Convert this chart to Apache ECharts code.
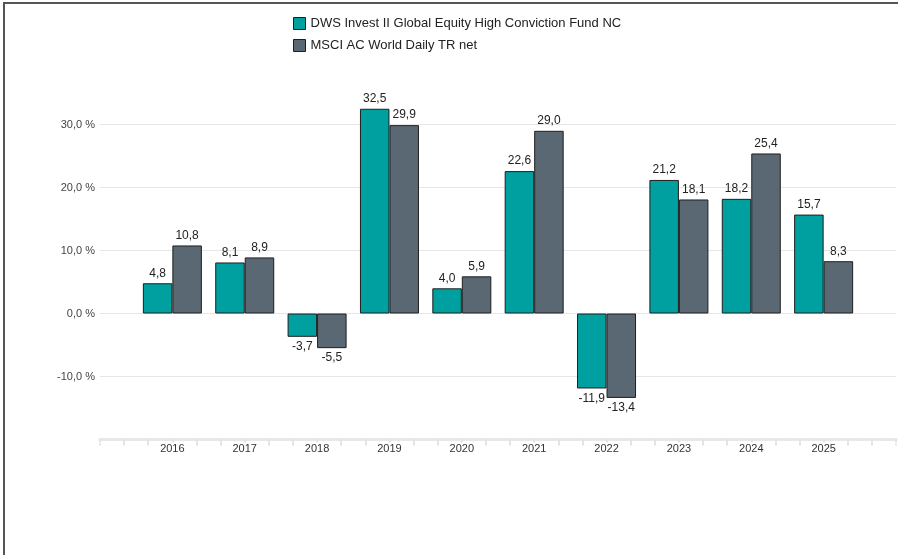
<!DOCTYPE html>
<html>
<head>
<meta charset="utf-8">
<script src="https://cdn.jsdelivr.net/npm/echarts@6/dist/echarts.min.js"></script>
<style>
  body { margin: 0; background: #fff; }
  #chart { width: 898px; height: 555px; }
</style>
</head>
<body>
<div id="chart"></div>
<script>
  // years and yearly performance in %
  var years = [2016, 2017, 2018, 2019, 2020, 2021, 2022, 2023, 2024, 2025];
  var fundName = 'DWS Invest II Global Equity High Conviction Fund NC';
  var indexName = 'MSCI AC World Daily TR net';
  var fundValues = [4.8, 8.1, -3.7, 32.5, 4.0, 22.6, -11.9, 21.2, 18.2, 15.7];
  var indexValues = [10.8, 8.9, -5.5, 29.9, 5.9, 29.0, -13.4, 18.1, 25.4, 8.3];
  var yTicks = [-10, 0, 10, 20, 30];

  var font = 'Liberation Sans, Arial, sans-serif';

  function fmt(v) {
    return v.toFixed(1).replace('.', ',');
  }

  function toData(values) {
    return values.map(function (v, i) {
      return {
        value: [years[i], v],
        label: { position: v < 0 ? 'bottom' : 'top' }
      };
    });
  }

  function barSeries(name, values, color) {
    return {
      name: name,
      type: 'bar',
      barWidth: 29.5,
      barGap: '0%',
      itemStyle: { color: color, borderColor: '#1e1e1e', borderWidth: 1 },
      label: {
        show: true,
        distance: 4,
        color: '#222',
        fontSize: 12,
        fontFamily: font,
        formatter: function (p) { return fmt(p.value[1]); }
      },
      data: toData(values)
    };
  }

  var myChart = echarts.init(document.getElementById('chart'));
  var option = {
    backgroundColor: '#fff',
    animation: false,
    graphic: [
      { type: 'line', shape: { x1: 3, y1: 3, x2: 898, y2: 3 }, style: { stroke: '#555', lineWidth: 2 } },
      { type: 'line', shape: { x1: 4, y1: 3, x2: 4, y2: 555 }, style: { stroke: '#555', lineWidth: 2 } }
    ],
    legend: {
      orient: 'vertical',
      left: 288,
      top: 12,
      itemGap: 9,
      icon: 'rect',
      itemWidth: 12,
      itemHeight: 12,
      selectedMode: false,
      itemStyle: { borderColor: '#1e1e1e', borderWidth: 1 },
      textStyle: { color: '#222', fontSize: 13, fontFamily: font }
    },
    grid: { left: 100, right: 2, top: 61.5, bottom: 115.5, outerBoundsMode: 'none', containLabel: false },
    xAxis: {
      type: 'value',
      min: 2015,
      max: 2026,
      interval: 1,
      splitLine: { show: false },
      axisLine: { show: true, onZero: false, lineStyle: { color: '#e8e8e8', width: 3 } },
      axisTick: { show: true, length: 6, lineStyle: { color: '#e4e4e4', width: 2 } },
      minorTick: { show: true, splitNumber: 3, length: 6, lineStyle: { color: '#e4e4e4', width: 2 } },
      axisLabel: {
        margin: 3,
        color: '#333',
        fontSize: 11,
        fontFamily: font,
        backgroundColor: '#fff',
        padding: [1, 4, 0, 4],
        formatter: function (v) {
          return years.indexOf(v) >= 0 ? String(v) : '';
        }
      }
    },
    yAxis: {
      type: 'value',
      min: -20,
      max: 40,
      interval: 10,
      axisLine: { show: false },
      axisTick: { show: false },
      splitLine: {
        show: true,
        showMinLine: false,
        showMaxLine: false,
        lineStyle: { color: '#e6e6e6', width: 1 }
      },
      axisLabel: {
        margin: 5,
        color: '#444',
        fontSize: 11,
        fontFamily: font,
        formatter: function (v) {
          return yTicks.indexOf(v) >= 0 ? fmt(v) + ' %' : '';
        }
      }
    },
    series: [
      barSeries(fundName, fundValues, '#00a0a0'),
      barSeries(indexName, indexValues, '#5a6873')
    ]
  };
  myChart.setOption(option);
</script>
</body>
</html>
